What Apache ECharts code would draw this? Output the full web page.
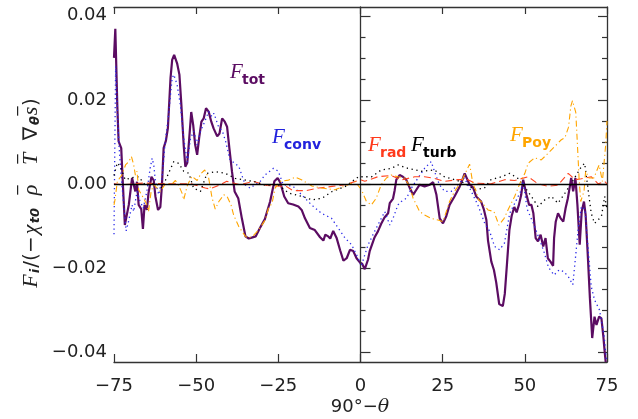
<!DOCTYPE html>
<html>
<head>
<meta charset="utf-8">
<script src="https://cdn.jsdelivr.net/npm/echarts@6/dist/echarts.min.js"></script>
<style>html,body{margin:0;padding:0;background:#fff}#c{width:638px;height:419px}</style>
</head>
<body>
<div id="c"></div>
<script>
// ---- data ----
const xTicks = [-75, -50, -25, 0, 25, 50, 75];
const yMajor = [-0.04, -0.02, 0.00, 0.02, 0.04];
const yMinor = [-0.035, -0.03, -0.025, -0.015, -0.01, -0.005, 0.005, 0.01, 0.015, 0.025, 0.03, 0.035];

const totX = [-75,-74.6,-74.0,-73.6,-72.8,-72.3,-71.7,-71.3,-70.5,-69.5,-69.0,-68.5,-68.0,-67.5,-66.7,-66.2,-65.7,-65.0,-64.5,-63.6,-62.9,-62.4,-61.6,-60.9,-60.4,-59.9,-59.2,-58.6,-57.8,-57.3,-56.7,-55.8,-55.1,-54.5,-53.8,-53.3,-52.7,-52.1,-51.5,-50.9,-50.3,-49.7,-49.1,-48.4,-47.7,-47.0,-46.2,-45.4,-44.7,-43.6,-42.9,-42.1,-41.3,-40.6,-39.9,-39.1,-38.3,-37.2,-36.1,-35.0,-34.0,-33.1,-31.9,-30.6,-29.1,-27.5,-26.2,-25.2,-24.4,-23.2,-22.0,-20.5,-18.9,-17.9,-16.9,-15.4,-13.9,-12.3,-11.3,-10.7,-9.8,-9.2,-8.3,-7.3,-6.2,-5.2,-4.2,-3.2,-2.2,-1.2,-0.2,0.5,1.3,2.3,2.8,3.3,4.3,5.3,6.3,7.3,8.4,8.9,9.9,10.4,10.9,11.9,12.9,13.9,15.0,16.0,17.0,18.0,19.5,21.1,22.1,23.1,24.1,25.1,26.1,27.1,28.6,30.2,31.2,31.7,32.2,33.2,34.2,35.2,36.7,37.5,38.3,38.8,39.8,40.6,41.3,42.2,43.3,43.9,44.6,45.3,46.0,46.8,47.5,48.2,48.9,49.5,49.9,50.5,51.3,52.0,52.6,53.3,54.0,54.8,55.6,56.3,57.0,57.8,58.6,58.9,59.4,60.1,60.9,61.7,62.4,63.1,63.7,64.1,64.7,65.4,66.0,66.7,67.3,68.0,68.5,69.2,69.8,70.5,71.2,71.8,72.6,73.3,73.9,74.3,74.6];
const totY = [0.030,0.0369,0.0188,0.0101,0.0085,0.0,-0.0098,-0.0102,-0.005,0.0014,0.0017,-0.0018,0.0005,-0.005,-0.006,-0.0107,-0.005,-0.0062,-0.0022,0.0017,0.0008,-0.003,-0.0062,-0.0055,-0.0002,0.0085,0.0103,0.0133,0.0252,0.0295,0.0307,0.0287,0.026,0.0188,0.0093,0.0041,0.005,0.0109,0.0171,0.014,0.0093,0.0069,0.0109,0.0148,0.0156,0.018,0.0172,0.0148,0.0132,0.0113,0.012,0.0156,0.0148,0.0136,0.0085,0.0029,-0.0018,-0.0034,-0.0082,-0.0125,-0.013,-0.0128,-0.0125,-0.0105,-0.0084,-0.0042,0.0006,0.0014,0.0003,-0.003,-0.0046,-0.0049,-0.0054,-0.0062,-0.0082,-0.0105,-0.011,-0.0127,-0.0135,-0.0121,-0.0125,-0.013,-0.0112,-0.0128,-0.0158,-0.0183,-0.0177,-0.0157,-0.016,-0.0177,-0.0187,-0.019,-0.0203,-0.018,-0.016,-0.0162,-0.0127,-0.0113,-0.0095,-0.008,-0.007,-0.0046,-0.0035,-0.0015,0.001,0.0021,0.0017,0.001,-0.001,-0.0026,-0.0014,-0.0002,-0.0006,-0.0002,0.0004,-0.0026,-0.0082,-0.0094,-0.0077,-0.005,-0.003,-0.0006,0.0014,0.0025,0.0021,-0.0002,-0.0008,-0.003,-0.0042,-0.006,-0.0086,-0.0135,-0.0185,-0.0205,-0.0235,-0.0286,-0.0291,-0.0262,-0.0187,-0.011,-0.0076,-0.0055,-0.0068,-0.005,-0.0026,0.001,0.0006,-0.0026,-0.005,-0.005,-0.007,-0.0129,-0.0137,-0.0121,-0.0149,-0.0129,-0.0177,-0.0185,-0.0195,-0.0129,-0.009,-0.007,-0.0082,-0.009,-0.0058,-0.0034,-0.0006,0.0014,-0.0018,0.0014,-0.005,-0.0145,-0.0066,-0.0042,-0.0074,-0.0177,-0.0272,-0.0367,-0.0316,-0.0336,-0.0316,-0.032,-0.0364,-0.040,-0.0424];

const convX = [-75,-74.8,-74.5,-74.0,-73.5,-72.6,-71.3,-70.6,-69.5,-69.0,-68.0,-67.1,-66.1,-65.0,-64.0,-63.4,-62.9,-62.4,-61.4,-60.4,-59.4,-58.4,-57.3,-56.8,-55.8,-54.8,-53.8,-52.7,-51.7,-50.7,-49.7,-48.7,-47.4,-46.2,-45.2,-44.6,-43.2,-42.0,-41.0,-39.7,-38.2,-37.0,-35.1,-33.6,-32.1,-30.6,-29.1,-26.5,-25.0,-23.5,-20.5,-17.9,-14.9,-11.9,-8.8,-6.8,-4.7,-2.7,-0.7,0.2,2.3,4.3,7.4,8.9,9.9,11.4,12.4,14.0,15.5,17.5,19.5,21.5,22.5,24.0,25.6,27.6,29.6,31.6,33.7,35.7,37.8,39.3,40.8,42.3,43.8,45.4,46.7,48.7,49.5,50.7,52.8,54.3,55.8,57.2,58.9,60.4,61.9,63.3,64.6,65.6,66.3,67.2,68.3,69.2,70.2,71.2,72.7,74.1,74.8];
const convY = [-0.012,0.005,0.028,0.018,0.0093,-0.0002,-0.0112,-0.009,-0.005,-0.0066,-0.0018,-0.004,-0.0058,-0.0018,0.0037,0.0061,0.0045,0.0006,-0.0026,0.0014,0.0101,0.0164,0.0252,0.026,0.0236,0.0188,0.0109,0.0053,0.0109,0.0125,0.0093,0.0125,0.0148,0.0172,0.016,0.0168,0.0136,0.0125,0.010,0.0057,0.0049,0.0041,-0.0002,-0.001,-0.0002,0.0005,0.0021,0.0037,0.003,-0.0002,-0.0006,-0.0026,-0.005,-0.007,-0.0082,-0.0105,-0.0129,-0.0145,-0.0177,-0.0196,-0.0145,-0.0113,-0.0066,-0.0098,-0.0082,-0.005,-0.0042,-0.0034,-0.001,0.0014,0.0037,0.0053,0.003,-0.0002,-0.0018,-0.0018,-0.0002,0.0014,-0.0018,-0.005,-0.0094,-0.0113,-0.0149,-0.0157,-0.0141,-0.007,-0.005,-0.0018,0.0006,-0.006,-0.0098,-0.0129,-0.0161,-0.0199,-0.0217,-0.0205,-0.0209,-0.0222,-0.024,-0.016,-0.0102,-0.0054,-0.006,-0.015,-0.0244,-0.0276,-0.030,-0.036,-0.0418];

const radX = [-75,-72.6,-66,-59.4,-51.5,-49.0,-47.2,-45.8,-43,-40.7,-36.7,-32.6,-28.5,-22.6,-20.6,-16.6,-12.7,-8.6,-4.6,0.0,1.3,5.3,9.4,12.4,16.5,19.5,22.5,25.5,29.6,32.7,34.7,39.7,43.9,46.9,51.0,54.0,57.1,60.1,63.2,65.3,67.2,70.2,72.3,74.3,75];
const radY = [0.0,-0.0002,0.0002,0.0,0.0,-0.0006,-0.001,-0.0012,-0.0003,0.0006,-0.0002,0.0006,-0.0004,-0.0006,-0.0016,-0.0016,-0.001,-0.0006,-0.0002,0.001,0.0006,0.0017,0.002,0.0009,0.0017,0.0017,0.0013,0.0006,0.001,0.001,0.0002,0.0,0.001,0.0008,0.0017,0.0,-0.0006,-0.0003,0.0025,0.001,0.0012,0.0017,0.0,0.0006,0.0];

const turbX = [-75,-74.0,-73.0,-71.6,-69.5,-67.5,-65.5,-62.4,-60.4,-58.4,-56.8,-55.3,-53.8,-52.2,-50.8,-48.7,-46.7,-44.2,-41.1,-38.1,-35.0,-32.0,-29.0,-24.9,-21.8,-17.8,-14.7,-11.7,-8.6,-4.6,-0.6,3.4,6.3,9.4,11.4,14.4,18.5,22.5,25.5,28.6,31.6,34.7,37.7,39.7,42.9,45.4,47.9,50.0,52.0,54.0,56.1,58.1,60.1,62.2,64.2,67.2,68.2,69.2,70.2,71.2,73.3,74.3,75];
const turbY = [0.002,0.005,0.004,0.001,0.0015,0.0017,-0.0003,0.0002,-0.001,0.0025,0.0053,0.0049,0.003,0.0025,-0.001,-0.0018,0.0025,0.0029,0.0025,0.0013,0.0009,0.0005,-0.0003,-0.0003,-0.0022,-0.003,-0.0038,-0.0034,-0.0018,-0.0006,0.0017,0.0017,0.0033,0.0037,0.0045,0.0037,0.003,0.0033,0.0017,0.001,0.0002,-0.0014,-0.001,0.001,0.0017,0.0025,0.0013,-0.0008,-0.003,-0.0054,-0.0038,-0.003,-0.0046,-0.0022,0.0002,0.0041,0.0049,-0.001,-0.007,-0.0094,-0.0078,-0.003,-0.006];

const poyX = [-75,-74.7,-74.0,-72.6,-71.5,-70.5,-69.7,-69.0,-68.5,-68.0,-67.5,-66.0,-65.0,-64.5,-63.7,-62.9,-61.9,-60.9,-59.4,-57.3,-56.3,-55.3,-54.3,-53.8,-52.7,-51.3,-49.7,-48.5,-47.4,-46.2,-45.2,-44.2,-43.1,-41.6,-40.6,-39.4,-38.6,-37.0,-35.0,-34.1,-32.6,-31.0,-29.0,-28.0,-26.9,-26.0,-24.4,-21.9,-19.8,-17.8,-14.8,-11.8,-7.8,-4.6,-1.6,0.3,1.8,3.3,4.8,6.3,7.9,9.4,11.4,13.4,15.0,16.0,17.0,18.0,19.5,21.5,23.6,25.1,26.1,27.1,28.6,30.7,33.2,34.2,35.2,35.9,36.7,38.8,40.6,42.1,43.7,45.0,46.9,48.9,50.0,51.0,53.0,55.0,57.1,59.1,61.1,62.2,63.3,64.0,64.5,65.0,65.5,65.9,66.5,67.0,68.0,68.5,69.5,71.0,72.6,73.6,74.6,75.0];
const poyY = [-0.005,-0.0038,0.0006,0.0021,0.0045,0.0053,0.0065,0.0045,0.0021,0.003,-0.0014,-0.0034,-0.005,-0.0066,-0.0018,-0.0002,-0.001,-0.0018,0.0,0.0,0.0008,-0.0004,-0.0022,-0.0038,-0.0004,0.0018,0.0008,0.0025,0.0033,0.0014,-0.0032,-0.006,-0.0042,-0.0026,-0.003,-0.005,-0.0074,-0.0102,-0.0125,-0.0129,-0.0123,-0.011,-0.0086,-0.0058,-0.0046,-0.001,0.0006,0.0009,0.0016,0.0009,-0.0005,-0.001,-0.0014,-0.0005,0.0005,-0.0014,-0.0042,-0.005,-0.0034,-0.0002,0.0014,0.0021,0.0017,0.0014,-0.0006,-0.0034,-0.005,-0.0066,-0.0074,-0.0082,-0.0086,-0.009,-0.0066,-0.0042,-0.0018,0.0006,0.0047,0.0,-0.0018,-0.0038,-0.0042,-0.0062,-0.0066,-0.0098,-0.0082,-0.006,-0.003,0.0009,0.0025,0.0049,0.0062,0.0057,0.0073,0.0089,0.0105,0.011,0.0135,0.0185,0.0198,0.0195,0.017,0.0109,0.0014,-0.0042,-0.0018,0.003,0.0014,0.0014,0.0045,0.0006,0.0093,0.015];

// ---- chart ----
const zip = (xs, ys) => xs.map((x, i) => [x, ys[i]]);
const yMin = -0.0424, yMax = 0.0421;
const AX = '#333';
const fmtY = v => { const s = Math.abs(v) < 1e-9 ? '0.00' : Math.abs(v).toFixed(2); return v < -1e-9 ? '\u2212' + s : s; };
const fmtX = v => v < 0 ? '\u2212' + Math.abs(v) : String(v);
const tickFont = { fontFamily: 'DejaVu Sans', fontSize: 18, color: '#222' };

const chart = echarts.init(document.getElementById('c'), null, { renderer: 'canvas' });

function yAx(pos, vals, len, withLabels, withLine) {
  return {
    type: 'value', position: pos, min: yMin, max: yMax,
    axisLine: { show: withLine, lineStyle: { color: AX, width: 1.3 } },
    axisTick: { show: true, inside: true, length: len, customValues: vals, lineStyle: { color: AX, width: 1.2 } },
    axisLabel: withLabels ? Object.assign({ show: true, customValues: vals, margin: 7, formatter: fmtY }, tickFont) : { show: false },
    splitLine: { show: false }
  };
}

const seriesStyle = (name, xs, ys, color, width, type, z) => ({
  name, type: 'line', data: zip(xs, ys), showSymbol: false, symbol: 'none', clip: true,
  lineStyle: { color, width, type }, z, animation: false
});

const option = {
  animation: false,
  backgroundColor: '#fff',
  grid: { left: 114, right: 31, top: 7, bottom: 57, containLabel: false },
  xAxis: [
    { type: 'value', position: 'bottom', min: -75, max: 75, interval: 25,
      axisLine: { show: true, onZero: false, lineStyle: { color: AX, width: 1.3 } },
      axisTick: { inside: true, length: 8, lineStyle: { color: AX, width: 1.2 } },
      axisLabel: Object.assign({ margin: 15, formatter: fmtX, customValues: xTicks }, tickFont),
      splitLine: { show: false } },
    { type: 'value', position: 'top', min: -75, max: 75, interval: 25,
      axisLine: { show: true, onZero: false, lineStyle: { color: AX, width: 1.3 } },
      axisTick: { inside: true, length: 7, lineStyle: { color: AX, width: 1.2 } },
      axisLabel: { show: false }, splitLine: { show: false } }
  ],
  yAxis: [
    yAx('left', yMajor, 10, true, true),
    yAx('left', yMinor, 5, false, false),
    yAx('right', yMajor, 9, false, true),
    yAx('right', yMinor, 5, false, false)
  ],
  series: [
    Object.assign(seriesStyle('F_tot', totX, totY, '#5b0c62', 2.2, 'solid', 3), {
      markLine: { silent: true, symbol: 'none', animation: false, label: { show: false },
        data: [ { xAxis: 0, lineStyle: { color: '#333', width: 1, type: 'solid' } },
                { yAxis: 0, lineStyle: { color: '#000', width: 1.3, type: 'solid' } } ] }
    }),
    seriesStyle('F_conv', convX, convY, '#2a2ae8', 1.3, [1.3, 3.2], 4),
    seriesStyle('F_rad', radX, radY, '#ff4422', 1.1, [7, 4], 4),
    seriesStyle('F_turb', turbX, turbY, '#000000', 1.3, [1.3, 3.6], 4),
    seriesStyle('F_Poy', poyX, poyY, '#ffa500', 1.1, [6, 3, 1.2, 3], 4)
  ],
  graphic: []
};

// in-plot labels: italic F + bold subscript
const labels = [
  { sub: 'tot', color: '#5b0c62', x: 230, y: 72 },
  { sub: 'conv', color: '#2222dd', x: 272, y: 137 },
  { sub: 'rad', color: '#ff3a1c', x: 368, y: 145 },
  { sub: 'turb', color: '#000000', x: 411, y: 145 },
  { sub: 'Poy', color: '#ffa500', x: 510, y: 135 }
];
labels.forEach(l => {
  option.graphic.push({ type: 'text', x: l.x, y: l.y, z: 100,
    style: { text: 'F', fill: l.color, font: 'italic 21px "Liberation Serif"', align: 'left', verticalAlign: 'middle' } });
  option.graphic.push({ type: 'text', x: l.x + 12, y: l.y + 8, z: 100,
    style: { text: l.sub, fill: l.color, font: 'bold 14px "DejaVu Sans"', align: 'left', verticalAlign: 'middle' } });
});

// y-axis title: two rich-text lines (overbars above rho, T, s), fixed-width tokens keep them aligned
const INK = '#222';
const tokens = [
  ['F', 'f', 14, false], ['i', 's', 6, false], ['/(\u2212', 'n', 32, false], ['\u03c7', 'g', 13, false],
  ['t0', 's', 15, false], [' ', 'n', 12, false], ['\u03c1', 'g', 12, true], [' ', 'n', 18, false],
  ['T', 'g', 14, true], [' ', 'n', 10, false], ['\u2207', 'n', 17, false], ['\u03b8', 's', 9, false],
  ['s', 'g', 10, true], [')', 'n', 8, false]
];
const baseRich = {
  f: { font: 'italic 22px "Liberation Serif"', lineHeight: 24, verticalAlign: 'bottom' },
  g: { font: 'italic 22px "Liberation Serif"', lineHeight: 24, verticalAlign: 'bottom' },
  n: { font: '20px "DejaVu Sans"', lineHeight: 24, verticalAlign: 'bottom' },
  s: { font: 'bold italic 13px "DejaVu Sans"', lineHeight: 14, verticalAlign: 'bottom' },
  bar: { font: '18px "DejaVu Sans"', lineHeight: 10, verticalAlign: 'bottom' }
};
const rich = {};
let line1 = '', line2 = '';
tokens.forEach((t, i) => {
  const mk = 'm' + i, bk = 'b' + i;
  rich[mk] = Object.assign({ width: t[2], align: 'center', fill: INK }, baseRich[t[1]]);
  rich[bk] = Object.assign({ width: t[2], align: 'center', fill: INK }, baseRich.bar);
  line2 += '{' + mk + '|' + t[0] + '}';
  line1 += '{' + bk + '|' + (t[3] ? '_' : ' ') + '}';
});
option.graphic.push({
  type: 'text', x: 25, y: 193, rotation: Math.PI / 2, z: 100,
  style: { text: line1 + '\n' + line2, align: 'center', verticalAlign: 'middle', fill: INK, rich }
});
option.graphic.push({
  type: 'text', x: 360, y: 407, z: 100,
  style: {
    text: '{n|90\u00b0\u2212}{g|\u03b8}', align: 'center', verticalAlign: 'middle',
    rich: {
      n: { font: '18px "DejaVu Sans"', fill: INK },
      g: { font: 'italic 19px "DejaVu Serif"', fill: INK }
    }
  }
});

chart.setOption(option);
</script>
</body>
</html>
